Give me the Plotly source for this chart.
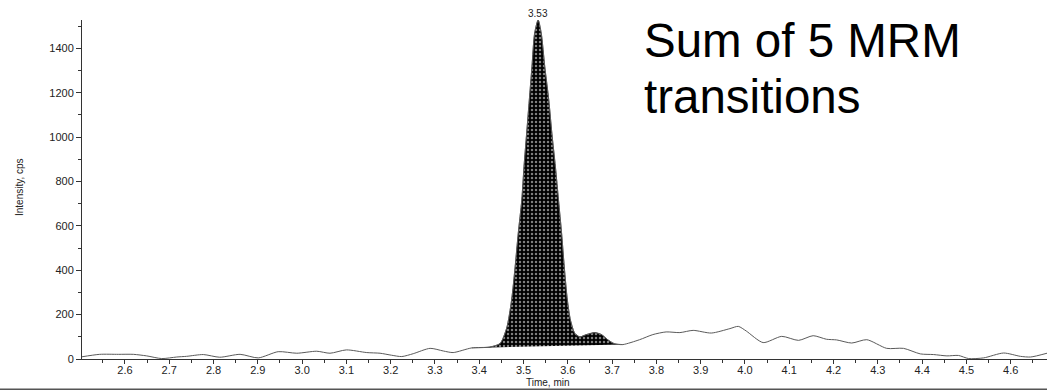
import plotly.graph_objects as go

# ---- data ----
time_min = [2.500, 2.543, 2.585, 2.619, 2.649, 2.683, 2.717, 2.739, 2.777, 2.814,
            2.860, 2.901, 2.946, 2.988, 3.033, 3.063, 3.100, 3.146, 3.176, 3.202,
            3.225, 3.251, 3.289, 3.319, 3.341, 3.383, 3.424, 3.447, 3.462, 3.473,
            3.481, 3.488, 3.496, 3.501, 3.507, 3.513, 3.519, 3.525, 3.533, 3.540,
            3.548, 3.557, 3.564, 3.572, 3.579, 3.586, 3.592, 3.599, 3.606, 3.616,
            3.627, 3.642, 3.661, 3.676, 3.690, 3.705, 3.724, 3.762, 3.792, 3.822,
            3.853, 3.883, 3.924, 3.966, 3.985, 4.003, 4.041, 4.083, 4.121, 4.154,
            4.184, 4.207, 4.241, 4.275, 4.320, 4.358, 4.396, 4.426, 4.456, 4.482,
            4.505, 4.539, 4.584, 4.622, 4.645, 4.682]
intensity = [9, 21, 21, 21, 14, 2, 9, 12, 20, 8,
             21, 5, 33, 26, 35, 26, 41, 29, 26, 17,
             11, 24, 48, 36, 29, 50, 54, 70, 140, 265,
             415, 566, 716, 866, 1017, 1167, 1317, 1468, 1528, 1468,
             1317, 1167, 1017, 866, 716, 566, 415, 265, 175, 115,
             100, 110, 119, 110, 87, 69, 65, 87, 110, 122,
             119, 129, 117, 137, 147, 126, 74, 102, 84, 105,
             89, 86, 72, 87, 48, 48, 23, 20, 14, 16,
             2, 5, 27, 12, 9, 26]

peak_start, peak_end = 3.383, 3.724
peak_baseline = [50, 65]
peak_label = "3.53"
peak_rt = 3.533
peak_height = 1528

x_ticks = [round(2.6 + 0.1 * i, 1) for i in range(21)]
y_ticks = [0, 200, 400, 600, 800, 1000, 1200, 1400]

# ---- figure ----
W, H = 1047, 392
ML, MR, MT, MB = 82, 0, 20, 33
pw, ph = W - ML - MR, H - MT - MB


def px_x(p):
    return (p - ML) / pw


def px_y(p):
    return (H - MB - p) / ph


pk_t = [t for t in time_min if peak_start <= t <= peak_end]
pk_v = [v for t, v in zip(time_min, intensity) if peak_start <= t <= peak_end]

fig = go.Figure()
fig.add_trace(go.Scatter(x=[peak_start, peak_end], y=peak_baseline, mode="lines",
                         line=dict(width=0, color="black"), hoverinfo="skip",
                         showlegend=False))
fig.add_trace(go.Scatter(x=pk_t, y=pk_v, mode="lines", fill="tonexty",
                         line=dict(width=0.5, color="black", shape="spline", smoothing=0.7),
                         fillcolor="black",
                         fillpattern=dict(shape=".", bgcolor="black", fgcolor="white",
                                          size=4, solidity=0.3),
                         showlegend=False, hoverinfo="skip"))
fig.add_trace(go.Scatter(x=time_min, y=intensity, mode="lines",
                         line=dict(width=1, color="#5a5a5a", shape="spline", smoothing=0.7),
                         showlegend=False))

fig.add_annotation(x=peak_rt, y=peak_height, text=peak_label, showarrow=False,
                   yanchor="bottom", font=dict(size=10, color="#222"), yshift=-1)

big_font = dict(family="Liberation Sans, Arial, sans-serif", size=47.5, color="black")
fig.add_annotation(xref="paper", yref="paper", x=px_x(642), y=px_y(40.5),
                   text="Sum of 5 MRM", showarrow=False, xanchor="left",
                   yanchor="middle", font=big_font)
fig.add_annotation(xref="paper", yref="paper", x=px_x(642), y=px_y(96.5),
                   text="transitions", showarrow=False, xanchor="left",
                   yanchor="middle", font=big_font)

fig.add_annotation(xref="paper", yref="paper", x=px_x(548), y=px_y(382),
                   text="Time, min", showarrow=False, xanchor="center",
                   yanchor="middle", font=dict(size=10, color="#222"))
fig.add_annotation(xref="paper", yref="paper", x=px_x(20), y=px_y(187),
                   text="Intensity, cps", showarrow=False, textangle=-90,
                   xanchor="center", yanchor="middle", font=dict(size=10, color="#222"))

fig.add_shape(type="line", xref="paper", yref="paper", x0=px_x(0), x1=1,
              y0=px_y(389.3), y1=px_y(389.3), line=dict(color="#555", width=1.5))

fig.update_layout(
    width=W, height=H, margin=dict(l=ML, r=MR, t=MT, b=MB),
    plot_bgcolor="white", paper_bgcolor="white",
    font=dict(family="Liberation Sans, Arial, sans-serif", size=11, color="#222"),
    showlegend=False,
)
fig.update_xaxes(range=[2.503, 4.682], tickvals=x_ticks, tickformat=".1f",
                 ticks="outside", ticklen=4, tickcolor="#333", showgrid=False,
                 zeroline=False, showline=True, linecolor="#333", linewidth=1,
                 minor=dict(dtick=0.05, tick0=2.55, ticks="outside", ticklen=3,
                            tickcolor="#333", showgrid=False),
                 tickfont=dict(size=11), ticklabelstandoff=-3)
fig.update_yaxes(range=[0, 1528], tickvals=y_ticks, ticks="outside", ticklen=5,
                 tickcolor="#333", showgrid=False, zeroline=False, showline=True,
                 linecolor="#333", linewidth=1,
                 minor=dict(dtick=100, ticks="outside", ticklen=3, tickcolor="#333",
                            showgrid=False),
                 tickfont=dict(size=11))

fig.write_html("out.html")
